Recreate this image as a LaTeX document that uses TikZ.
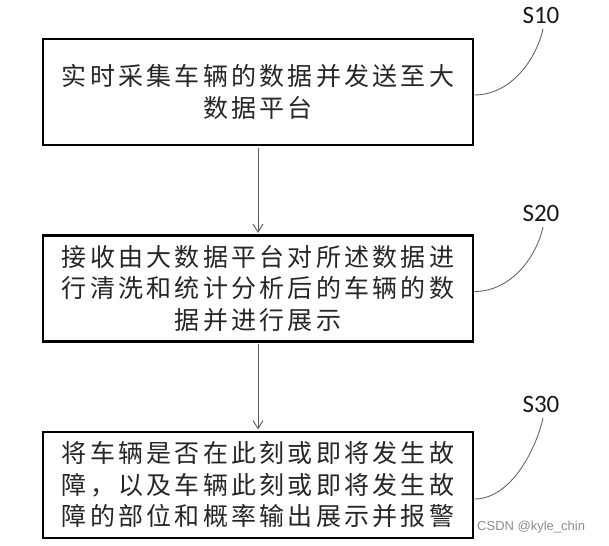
\documentclass[tikz,border=0pt]{standalone}
\usepackage{fontspec}
\newfontfamily\cjk{Noto Sans CJK SC}[LetterSpace=13]
\newfontfamily\lab{Carlito}
\newfontfamily\wm{Liberation Sans}
\usetikzlibrary{arrows.meta}
\begin{document}
\begin{tikzpicture}[x=1pt,y=-1pt,
  stepbox/.style={draw=black, line width=2.6pt, minimum width=430pt, minimum height=106pt,
    align=center, inner sep=0pt, text=black!85, font=\cjk\fontsize{25}{31.5}\selectfont},
  flow/.style={draw=black!65, line width=0.9pt, shorten >=1.3pt, shorten <=1.3pt,
    -{Straight Barb[length=8pt,width=10pt]}},
  leader/.style={draw=black!60, line width=0.9pt},
  steplabel/.style={font=\lab\fontsize{25}{25}\selectfont, inner sep=0pt, text=black!90, anchor=south},
  watermark/.style={font=\wm\fontsize{13}{13}\selectfont, text=black!45, anchor=west, inner sep=0pt}]
\useasboundingbox (0,0) rectangle (609,545);
\node[stepbox] (b1) at (258,92) {实时采集车辆的数据并发送至大\\数据平台};
\node[stepbox] (b2) at (258,288.5) {接收由大数据平台对所述数据进\\行清洗和统计分析后的车辆的数\\据并进行展示};
\node[stepbox] (b3) at (258,485) {将车辆是否在此刻或即将发生故\\障，以及车辆此刻或即将发生故\\障的部位和概率输出展示并报警};
\node[steplabel] (s10) at (541,24) {S10};
\node[steplabel] (s20) at (541,222) {S20};
\node[steplabel] (s30) at (541,413) {S30};
\coordinate (e10) at (543,29);
\coordinate (e20) at (543,227);
\coordinate (e30) at (543,418);
\draw[flow] (b1) -- (b2);
\draw[flow] (b2) -- (b3);
\draw[leader] ([yshift=-3pt]b1.east) .. controls +(38,0) and +(-6,28) .. (e10);
\draw[leader] ([yshift=-3pt]b2.east) .. controls +(38,0) and +(-6,28) .. (e20);
\draw[leader] ([yshift=-14pt]b3.east) .. controls +(38,0) and +(-6,28) .. (e30);
\node[watermark] (wm) at (477,527) {CSDN @kyle\_chin};
\end{tikzpicture}
\end{document}
